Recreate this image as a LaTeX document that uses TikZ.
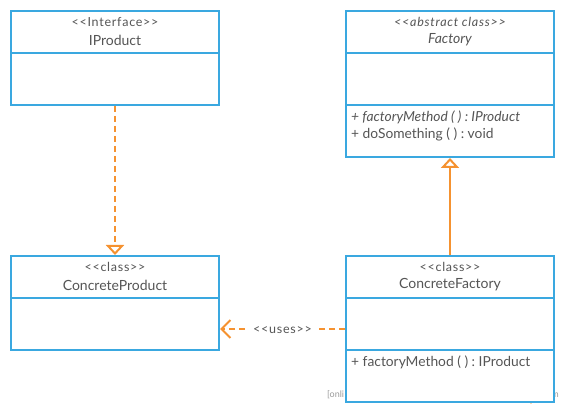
\documentclass[tikz,border=0pt]{standalone}
\usepackage{fontspec}
\setmainfont{Lato}[Ligatures=TeXOff]
\usepackage{tikz}
\usetikzlibrary{arrows.meta}
\frenchspacing

\definecolor{umlblue}{RGB}{58,168,224}
\definecolor{umlorange}{RGB}{245,146,48}
\definecolor{umltext}{RGB}{85,85,85}

\tikzset{
  classbox/.style={draw=umlblue, line width=2pt, fill=white, minimum width=208pt, inner sep=0pt},
  divider/.style={draw=umlblue, line width=2pt},
  stereo/.style={text=umltext, font=\fontsize{12.5}{14}\selectfont\addfontfeature{LetterSpace=6}, inner sep=0pt},
  cname/.style={text=umltext, font=\fontsize{14}{16}\selectfont, inner sep=0pt},
  member/.style={text=umltext, font=\fontsize{13.8}{16}\selectfont, inner sep=0pt, anchor=west},
  realize/.style={draw=umlorange, line width=2pt, dash pattern=on 6pt off 4pt, -{Triangle[open, width=18pt, length=10pt, line width=2pt]}},
  inherit/.style={draw=umlorange, line width=2pt, -{Triangle[open, width=18pt, length=10pt, line width=2pt]}},
  depend/.style={draw=umlorange, line width=2pt, dash pattern=on 6pt off 4pt, -{Straight Barb[length=9pt, width=18pt, line width=2pt]}},
  wmark/.style={text=gray!80, font=\fontsize{9}{10}\selectfont, inner sep=0pt}
}

\begin{document}
\begin{tikzpicture}[x=1pt, y=-1pt]
\useasboundingbox (0,0) rectangle (565,411);
% watermark, mostly hidden behind ConcreteFactory
\node[wmark, anchor=west] (wmleft) at (327,395) {[onli};
\node[wmark, anchor=east] (wmright) at (559,395) {m};
\fill[umlorange!70] (530,403) -- (533,399) -- (534,400) -- (531,404) -- cycle;
% IProduct
\node[classbox, minimum height=94pt] (iprod) at (115,58) {};
\draw[divider] (iprod.west |- 0,53) -- (iprod.east |- 0,53);
\node[stereo] (iprodst) at (115,22) {<<Interface>>};
\node[cname] (iprodnm) at (115,40) {IProduct};
% Factory
\node[classbox, minimum height=146pt] (fact) at (450,84) {};
\draw[divider] (fact.west |- 0,53) -- (fact.east |- 0,53);
\draw[divider] (fact.west |- 0,105) -- (fact.east |- 0,105);
\node[stereo] (factst) at (450,22) {\itshape <<abstract class>>};
\node[cname] (factnm) at (450,40) {\itshape Factory};
\node[member] (factm1) at (351,117) {\itshape + factoryMethod ( ) : IProduct};
\node[member] (factm2) at (351,134) {+ doSomething ( ) : void};
% ConcreteProduct
\node[classbox, minimum height=94pt] (cprod) at (115,303) {};
\draw[divider] (cprod.west |- 0,298) -- (cprod.east |- 0,298);
\node[stereo] (cprodst) at (115,267) {<<class>>};
\node[cname] (cprodnm) at (115,285) {ConcreteProduct};
% ConcreteFactory
\node[classbox, minimum height=146pt] (cfact) at (450,329) {};
\draw[divider] (cfact.west |- 0,298) -- (cfact.east |- 0,298);
\draw[divider] (cfact.west |- 0,350) -- (cfact.east |- 0,350);
\node[stereo] (cfactst) at (450,267) {<<class>>};
\node[cname] (cfactnm) at (450,285) {ConcreteFactory};
\node[member] (cfactm1) at (351,362) {+ factoryMethod ( ) : IProduct};
% connectors
\draw[realize] (iprod.south) -- (cprod.north);
\draw[inherit] (cfact.north) -- (fact.south);
\draw[depend] (cfact.west |- 0,329) -- node[stereo, fill=white, inner xsep=6pt, inner ysep=2pt, yshift=-1.5pt] (uses) {<<uses>>} (cprod.east |- 0,329);
\end{tikzpicture}
\end{document}
